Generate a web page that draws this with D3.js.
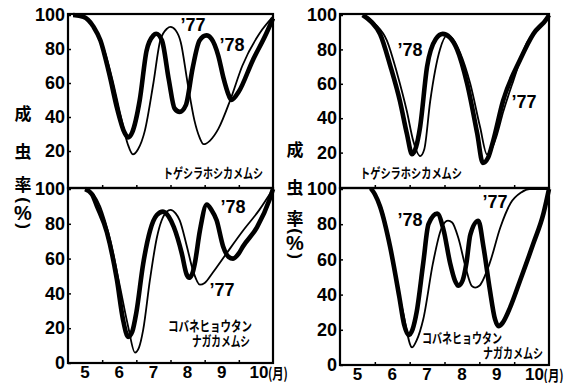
<!DOCTYPE html>
<html>
<head>
<meta charset="utf-8">
<script src="https://cdn.jsdelivr.net/npm/d3@7"></script>
<style>
  body { margin: 0; background: #fff; }
</style>
</head>
<body>
<svg width="574" height="383"></svg>
<script>
const monthLabels = [5, 6, 7, 8, 9, 10];
const monthTicks = [6, 7, 8, 9, 10];
const yTicksTop = [20, 40, 60, 80, 100];
const yTicksBottom = [0, 20, 40, 60, 80, 100];
const yTitle = ["成", "虫", "率"];

// [month, % adult]
// トゲシラホシカメムシ (left)
const togeL78 = [[5.15,100],[5.45,99],[5.75,93],[5.95,85],[6.2,66],[6.45,44],[6.65,31],[6.76,28],[6.88,31],[7.1,50],[7.3,79],[7.5,88],[7.58,89],[7.75,85],[7.95,62],[8.12,45],[8.27,43],[8.45,47],[8.65,69],[8.85,85],[9.05,88],[9.2,86],[9.4,76],[9.55,63],[9.7,53],[9.78,50],[10.0,55],[10.4,73],[10.8,89],[11,98]];
const togeL77 = [[5.15,100],[5.45,99],[5.8,91],[6.05,80],[6.3,62],[6.55,40],[6.75,24],[6.9,18],[7.05,21],[7.25,32],[7.5,60],[7.7,85],[7.9,92],[8.0,93],[8.15,91],[8.3,84],[8.5,60],[8.7,38],[8.85,28],[8.97,24],[9.15,26],[9.4,33],[9.75,50],[10.1,70],[10.6,89],[11,99]];
// トゲシラホシカメムシ (right)
const togeR78 = [[5.65,100],[5.9,96],[6.15,89],[6.45,70],[6.72,50],[6.92,31],[7.07,19],[7.18,23],[7.3,35],[7.5,70],[7.75,86],[7.95,89],[8.15,87],[8.36,80],[8.65,60],[8.94,31],[9.1,14],[9.25,17],[9.4,27],[9.68,50],[10.17,74],[10.55,89],[10.94,98],[11,100]];
const togeR77 = [[5.7,100],[6.0,95],[6.35,85],[6.64,66],[6.92,44],[7.1,27],[7.3,18],[7.42,22],[7.59,50],[7.87,80],[8.07,88],[8.2,87],[8.45,78],[8.74,60],[9.02,35],[9.22,19],[9.35,22],[9.5,30],[9.69,44],[9.98,62],[10.37,84],[10.75,93],[11,100]];
// コバネヒョウタンナガカメムシ (left)
const kobaL78 = [[5.5,100],[5.7,97],[5.85,90],[6.14,75],[6.43,48],[6.61,25],[6.76,15],[6.88,18],[7.0,29],[7.2,57],[7.4,76],[7.6,85],[7.78,87],[7.95,84],[8.1,78],[8.33,63],[8.47,51],[8.55,49],[8.65,52],[8.71,57],[8.86,76],[9.06,91],[9.2,88],[9.35,82],[9.54,67],[9.7,61],[9.83,60],[10.0,63],[10.12,67],[10.53,78],[10.9,94],[11,100]];
const kobaL77 = [[5.55,100],[5.75,97],[5.94,90],[6.23,71],[6.52,44],[6.76,21],[6.96,6],[7.08,9],[7.2,19],[7.4,48],[7.6,72],[7.89,87],[8.0,88],[8.15,86],[8.27,82],[8.48,67],[8.66,53],[8.86,45],[9.0,46],[9.24,52],[9.64,63],[10.12,76],[10.6,88],[11,100]];
// コバネヒョウタンナガカメムシ (right)
const kobaR78 = [[5.9,100],[6.0,97],[6.15,90],[6.44,67],[6.7,39],[6.84,23],[6.97,17],[7.08,20],[7.2,30],[7.39,58],[7.54,80],[7.79,86],[7.97,77],[8.16,58],[8.3,48],[8.4,45],[8.52,48],[8.63,58],[8.74,74],[8.97,82],[9.12,67],[9.3,43],[9.45,26],[9.55,22],[9.67,24],[9.89,33],[10.17,48],[10.55,69],[10.84,86],[11,100]];
const kobaR77 = [[5.85,100],[6.0,97],[6.24,86],[6.52,58],[6.81,30],[7.07,10],[7.2,14],[7.39,26],[7.67,58],[7.9,77],[8.1,82],[8.22,81],[8.4,72],[8.6,56],[8.78,45],[8.88,44],[9.0,45],[9.3,58],[9.6,78],[9.9,92],[10.2,98],[10.45,100],[11,100]];

const svg = d3.select("svg");
const numFont = "'Liberation Sans Narrow','Arial Narrow','Liberation Sans',sans-serif";
const jpFont = "'Noto Sans CJK JP',sans-serif";

const panels = [
  { left: 68, right: 273, top: 14, bottom: 188, y0: 185, y100: 15, ticks: yTicksTop, s77: togeL77, s78: togeL78,
    years: [["’77", 193, 25], ["’78", 232, 45]],
    names: [["トゲシラホシカメムシ", 163, 172, 100]] },
  { left: 340, right: 549, top: 14, bottom: 188, y0: 187, y100: 15, ticks: yTicksTop, s77: togeR77, s78: togeR78,
    years: [["’78", 410, 50], ["’77", 524, 102]],
    names: [["トゲシラホシカメムシ", 360, 172, 102]] },
  { left: 68, right: 273, top: 188, bottom: 363, y0: 363, y100: 189, ticks: yTicksBottom, s77: kobaL77, s78: kobaL78,
    years: [["’78", 233, 207], ["’77", 222, 290]],
    names: [["コバネヒョウタン", 168, 325, 84], ["ナガカメムシ", 192, 340, 58]], months: true },
  { left: 340, right: 549, top: 188, bottom: 365, y0: 365, y100: 189, ticks: yTicksBottom, s77: kobaR77, s78: kobaR78,
    years: [["’77", 495, 202], ["’78", 410, 220]],
    names: [["コバネヒョウタン", 422, 337, 80], ["ナガカメムシ", 483, 352, 60]], months: true }
];

panels.forEach(function (p) {
  const x = d3.scaleLinear().domain([5, 11]).range([p.left, p.right]);
  const y = d3.scaleLinear().domain([0, 100]).range([p.y0, p.y100]);
  const g = svg.append("g");

  const line = d3.line()
    .x(function (d) { return x(d[0]); })
    .y(function (d) { return y(d[1]); })
    .curve(d3.curveMonotoneX);

  g.append("path").datum(p.s77).attr("d", line)
    .attr("fill", "none").attr("stroke", "#000").attr("stroke-width", 1.8);
  g.append("path").datum(p.s78).attr("d", line)
    .attr("fill", "none").attr("stroke", "#000").attr("stroke-width", 4.6)
    .attr("stroke-linejoin", "round");

  g.append("rect")
    .attr("x", p.left).attr("y", p.top)
    .attr("width", p.right - p.left).attr("height", p.bottom - p.top)
    .attr("fill", "none").attr("stroke", "#000").attr("stroke-width", 2.2);

  const ya = g.append("g")
    .attr("transform", "translate(" + p.left + ",0)")
    .call(d3.axisLeft(y).tickValues(p.ticks).tickSize(-3).tickPadding(3));
  ya.select(".domain").remove();
  ya.selectAll("line").attr("stroke-width", 1.5);
  ya.selectAll("text")
    .attr("font-family", numFont).attr("font-weight", "bold")
    .attr("font-size", 18).attr("fill", "#000");

  const xa = g.append("g")
    .attr("transform", "translate(0," + p.bottom + ")")
    .call(d3.axisBottom(x).tickValues(monthTicks).tickSize(-3).tickFormat(""));
  xa.select(".domain").remove();
  xa.selectAll("line").attr("stroke-width", 1.5);

  if (p.months) {
    g.selectAll(".month").data(monthLabels).enter().append("text")
      .attr("x", function (d) { return x(d + 0.5) + (d === 10 ? 3 : 0); })
      .attr("y", p.bottom + 9)
      .attr("dominant-baseline", "central")
      .attr("text-anchor", "middle")
      .attr("font-family", numFont).attr("font-weight", "bold").attr("font-size", 17)
      .text(function (d) { return d; });
    g.append("text")
      .attr("x", x(10.5) + 12).attr("y", p.bottom + 9)
      .attr("dominant-baseline", "central")
      .attr("font-family", jpFont).attr("font-weight", "bold").attr("font-size", 15)
      .attr("textLength", 20).attr("lengthAdjust", "spacingAndGlyphs")
      .text("(月)");
  }

  g.selectAll(".yr").data(p.years).enter().append("text")
    .attr("x", function (d) { return d[1]; })
    .attr("y", function (d) { return d[2]; })
    .attr("text-anchor", "middle").attr("dominant-baseline", "central")
    .attr("font-family", numFont).attr("font-weight", "bold").attr("font-size", 18)
    .text(function (d) { return d[0]; });

  g.selectAll(".nm").data(p.names).enter().append("text")
    .attr("x", function (d) { return d[1]; })
    .attr("y", function (d) { return d[2]; })
    .attr("dominant-baseline", "central")
    .attr("font-family", jpFont).attr("font-weight", "bold").attr("font-size", 13.5)
    .attr("textLength", function (d) { return d[3]; })
    .attr("lengthAdjust", "spacingAndGlyphs")
    .text(function (d) { return d[0]; });
});

// 成虫率(%) titles; brackets turned for vertical setting
[{ x: 23, ys: [112, 150, 183], paren: [200, 213, 226] },
 { x: 295, ys: [148, 186, 217], paren: [231, 243, 256] }].forEach(function (t) {
  svg.selectAll(null).data(yTitle).enter().append("text")
    .attr("x", t.x).attr("y", function (d, i) { return t.ys[i]; })
    .attr("text-anchor", "middle").attr("dominant-baseline", "central")
    .attr("font-family", jpFont).attr("font-weight", "bold").attr("font-size", 17)
    .text(function (d) { return d; });
  svg.selectAll(null).data(["(", "%", ")"]).enter().append("text")
    .attr("transform", function (d, i) {
      return "translate(" + t.x + "," + t.paren[i] + ")" + (d === "%" ? "" : " rotate(90)");
    })
    .attr("text-anchor", "middle").attr("dominant-baseline", "central")
    .attr("font-family", numFont)
    .attr("font-weight", "bold").attr("font-size", function (d) { return d === "%" ? 20 : 17; })
    .text(function (d) { return d; });
});
</script>
</body>
</html>
